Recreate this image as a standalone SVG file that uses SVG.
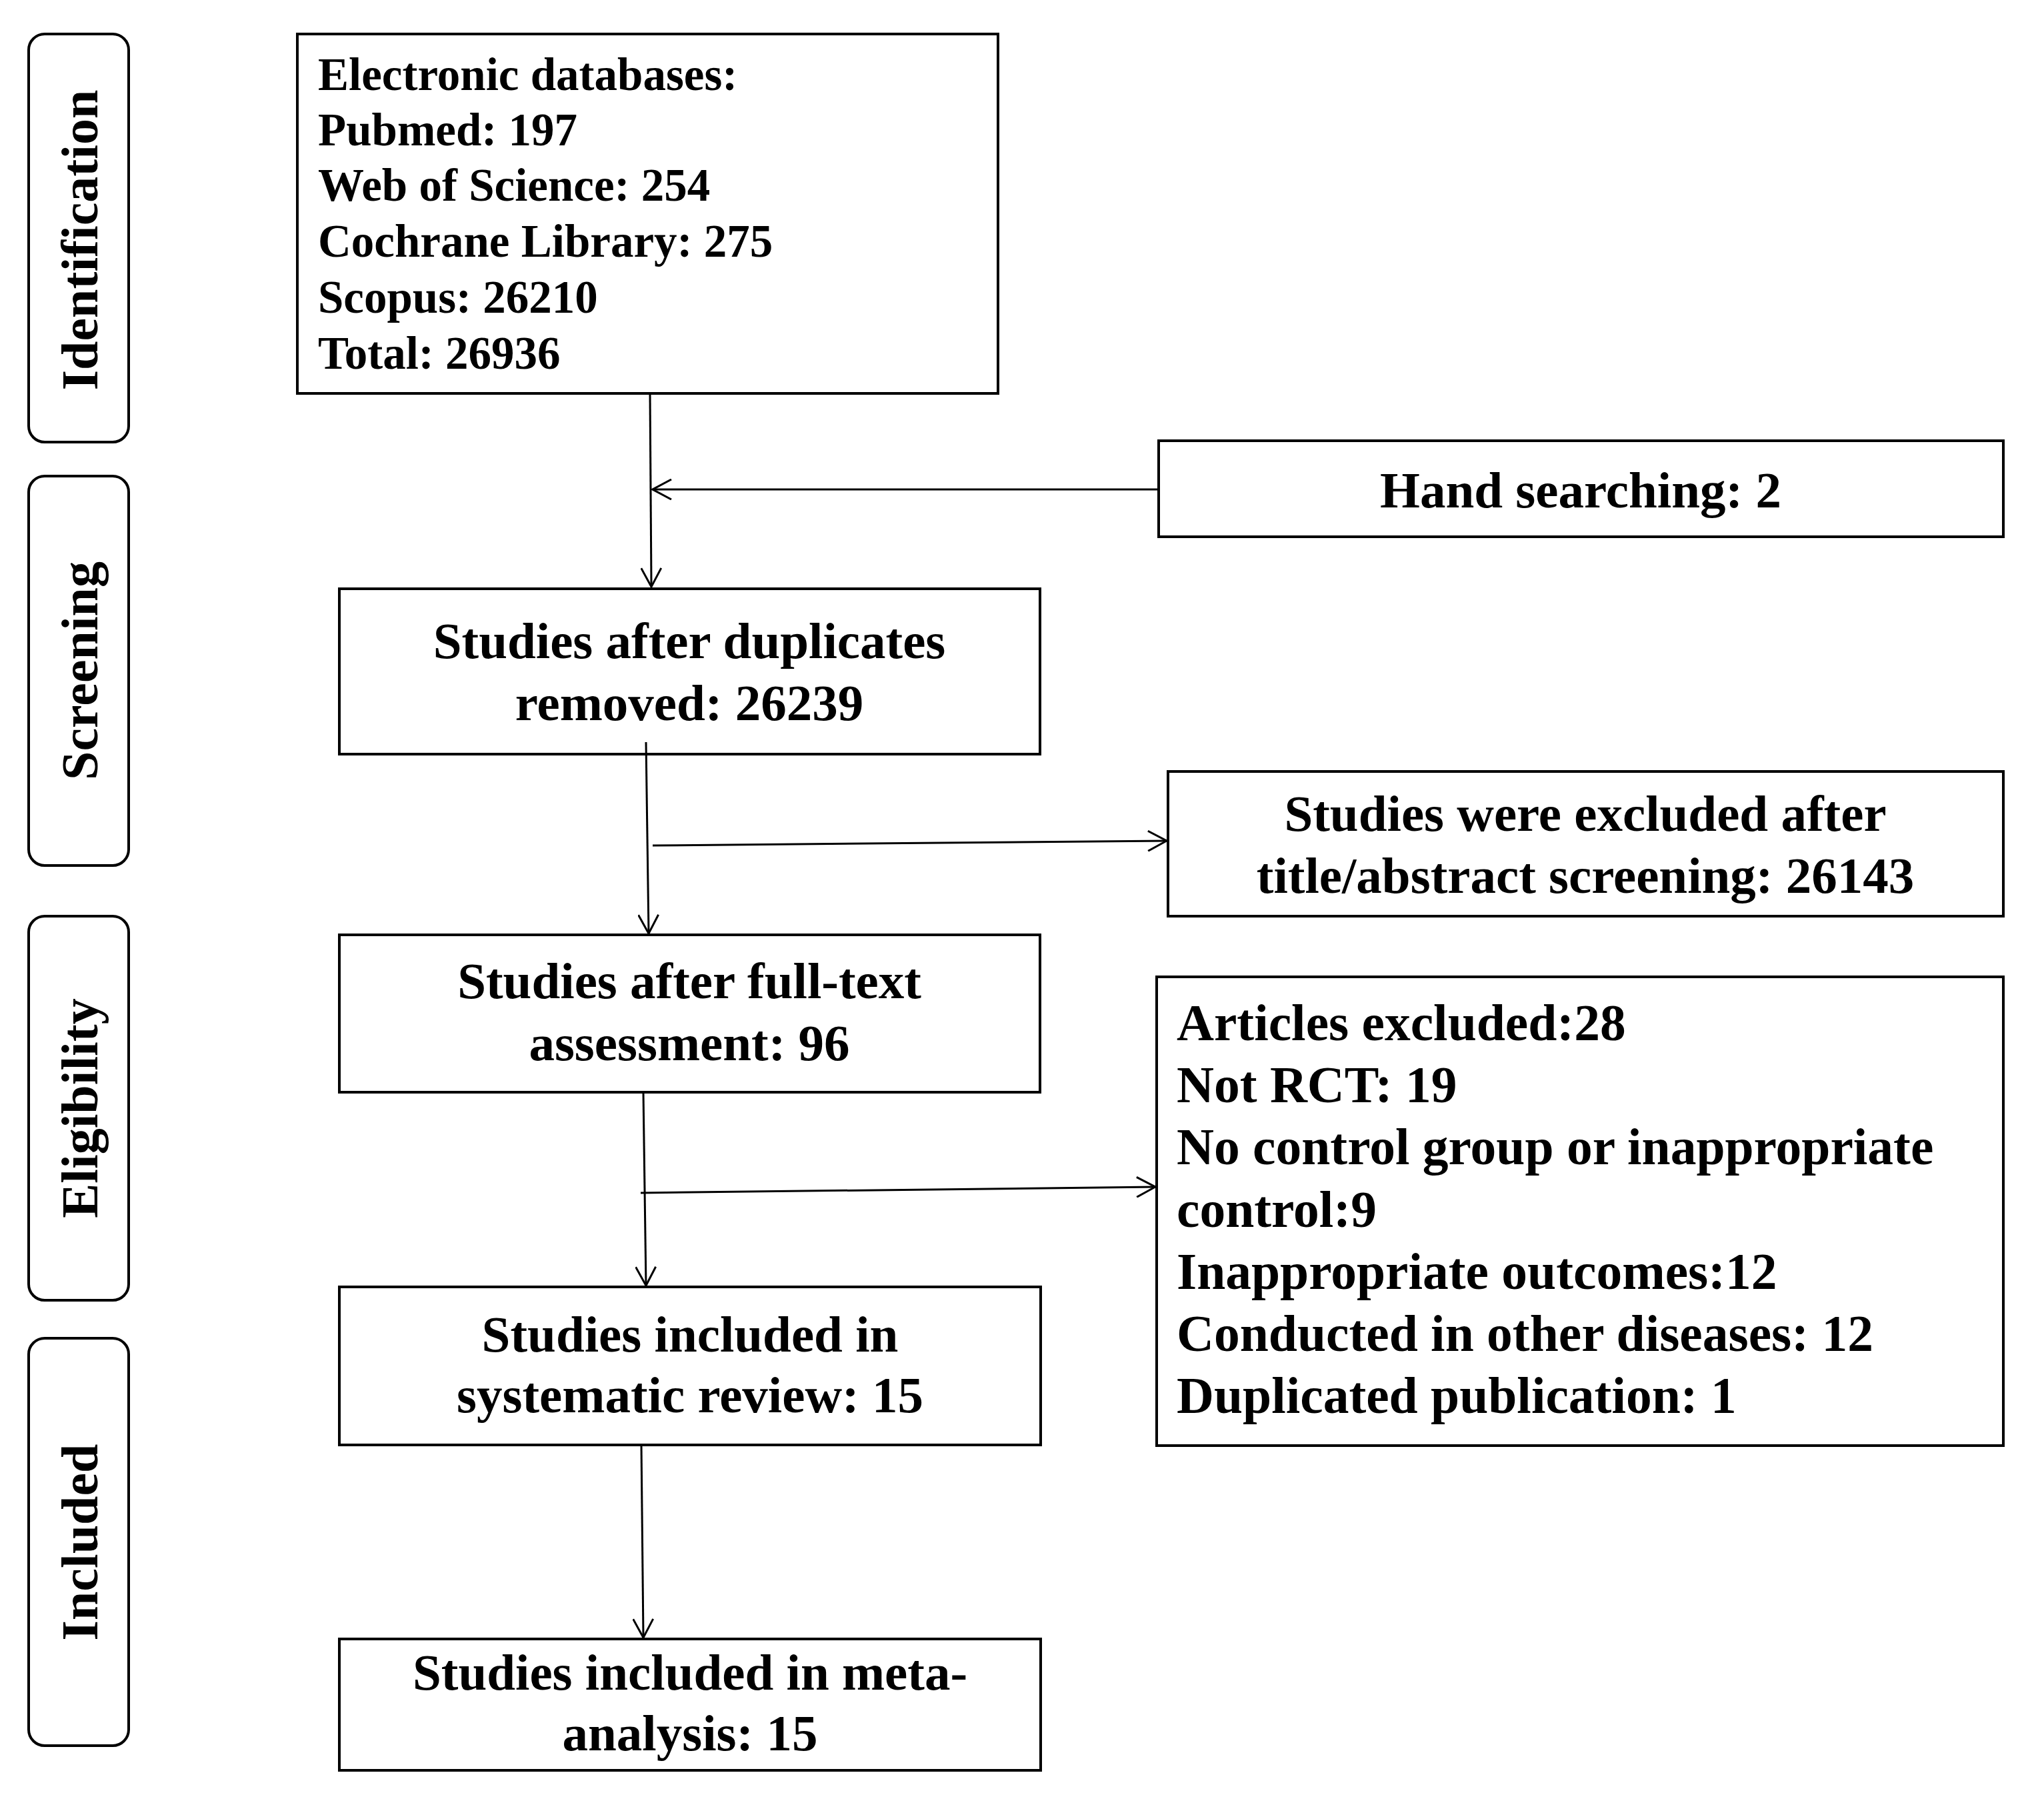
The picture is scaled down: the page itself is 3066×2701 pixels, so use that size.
<svg xmlns="http://www.w3.org/2000/svg" width="3066" height="2701" viewBox="0 0 3066 2701">
<defs>
<style>
.box{fill:#fff;stroke:#000;stroke-width:4}
.stage{fill:#fff;stroke:#000;stroke-width:4}
.t{font-family:"Liberation Serif","Times New Roman",serif;font-weight:bold;fill:#000}
.c{text-anchor:middle}
.lab{font-size:78px}
.m{font-size:77px}
.a{font-size:77.5px}
.s{font-size:69px}
.conn{stroke:#000;stroke-width:3;fill:none}
</style>
<marker id="arr" viewBox="0 0 32 32" refX="30" refY="16" markerWidth="32" markerHeight="32" markerUnits="userSpaceOnUse" orient="auto">
<path d="M2,1 L30,16 L2,31" fill="none" stroke="#000" stroke-width="3"/>
</marker>
</defs>
<rect width="3066" height="2701" fill="#fff"/>

<g id="stage-identification">
<rect class="stage" x="43" y="51" width="150" height="612" rx="24"/>
<text class="t lab c" transform="translate(146,360) rotate(-90)">Identification</text>
</g>
<g id="stage-screening">
<rect class="stage" x="43" y="714" width="150" height="584" rx="24"/>
<text class="t lab c" transform="translate(146,1006) rotate(-90)">Screening</text>
</g>
<g id="stage-eligibility">
<rect class="stage" x="43" y="1374" width="150" height="576" rx="24"/>
<text class="t lab c" transform="translate(146,1662) rotate(-90)">Eligibility</text>
</g>
<g id="stage-included">
<rect class="stage" x="43" y="2007" width="150" height="611" rx="24"/>
<text class="t lab c" transform="translate(146,2313) rotate(-90)">Included</text>
</g>

<g id="node-databases">
<rect class="box" x="446" y="51" width="1051" height="539"/>
<text class="t s" x="477" y="135">Electronic databases:</text>
<text class="t s" x="477" y="218">Pubmed: 197</text>
<text class="t s" x="477" y="301">Web of Science: 254</text>
<text class="t s" x="477" y="385">Cochrane Library: 275</text>
<text class="t s" x="477" y="469">Scopus: 26210</text>
<text class="t s" x="477" y="553">Total: 26936</text>
</g>
<g id="node-hand">
<rect class="box" x="1738" y="661" width="1267" height="144"/>
<text class="t m c" x="2371" y="761">Hand searching: 2</text>
</g>
<g id="node-dedup">
<rect class="box" x="509" y="883" width="1051" height="248"/>
<text class="t m c" x="1034" y="987">Studies after duplicates</text>
<text class="t m c" x="1034" y="1080">removed: 26239</text>
</g>
<g id="node-excluded-title">
<rect class="box" x="1752" y="1157" width="1253" height="217"/>
<text class="t m c" x="2378" y="1246">Studies were excluded after</text>
<text class="t m c" x="2378" y="1339">title/abstract screening: 26143</text>
</g>
<g id="node-fulltext">
<rect class="box" x="509" y="1402" width="1051" height="236"/>
<text class="t m c" x="1034" y="1497">Studies after full-text</text>
<text class="t m c" x="1034" y="1590">assessment: 96</text>
</g>
<g id="node-articles-excluded">
<rect class="box" x="1735" y="1465" width="1270" height="703"/>
<text class="t a" x="1765" y="1560">Articles excluded:28</text>
<text class="t a" x="1765" y="1653">Not RCT: 19</text>
<text class="t a" x="1765" y="1746">No control group or inappropriate</text>
<text class="t a" x="1765" y="1840">control:9</text>
<text class="t a" x="1765" y="1933">Inappropriate outcomes:12</text>
<text class="t a" x="1765" y="2026">Conducted in other diseases: 12</text>
<text class="t a" x="1765" y="2119">Duplicated publication: 1</text>
</g>
<g id="node-systematic">
<rect class="box" x="509" y="1930" width="1052" height="237"/>
<text class="t m c" x="1035" y="2027">Studies included in</text>
<text class="t m c" x="1035" y="2118">systematic review: 15</text>
</g>
<g id="node-meta">
<rect class="box" x="509" y="2458" width="1052" height="197"/>
<text class="t m c" x="1035" y="2534">Studies included in meta-</text>
<text class="t m c" x="1035" y="2625">analysis: 15</text>
</g>

<g id="connectors">
<line class="conn" x1="975" y1="590" x2="977" y2="880" marker-end="url(#arr)"/>
<line class="conn" x1="1738" y1="734" x2="979" y2="734" marker-end="url(#arr)"/>
<line class="conn" x1="969" y1="1113" x2="973" y2="1400" marker-end="url(#arr)"/>
<line class="conn" x1="979" y1="1268" x2="1750" y2="1261" marker-end="url(#arr)"/>
<line class="conn" x1="965" y1="1639" x2="969" y2="1928" marker-end="url(#arr)"/>
<line class="conn" x1="961" y1="1789" x2="1733" y2="1780" marker-end="url(#arr)"/>
<line class="conn" x1="962" y1="2167" x2="965" y2="2456" marker-end="url(#arr)"/>
</g>
</svg>
